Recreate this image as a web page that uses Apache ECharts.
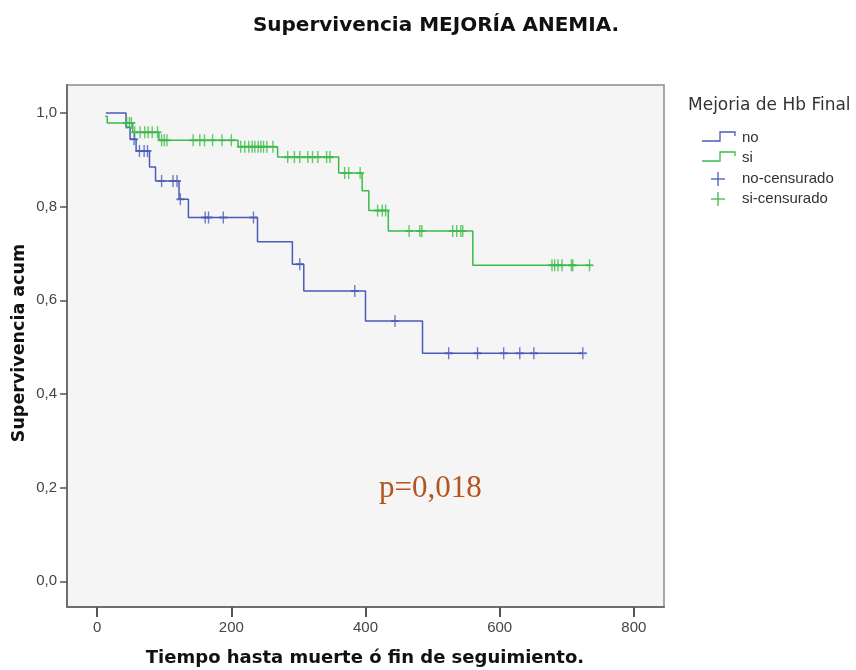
<!DOCTYPE html>
<html>
<head>
<meta charset="utf-8">
<script src="https://cdn.jsdelivr.net/npm/echarts@6/dist/echarts.min.js"></script>
<style>
  html, body { margin: 0; padding: 0; background: #ffffff; }
  #chart { width: 856px; height: 670px; }
</style>
</head>
<body>
<div id="chart"></div>
<script>
// Texts
const titleText = 'Supervivencia MEJORÍA ANEMIA.';
const xTitle = 'Tiempo hasta muerte ó fin de seguimiento.';
const yTitle = 'Supervivencia acum';
const legendTitle = 'Mejoria de Hb Final';
const groupNames = ['no', 'si'];
const censorNames = ['no-censurado', 'si-censurado'];
const pValueText = 'p=0,018';

// Axis ticks
const xTicks = [0, 200, 400, 600, 800];
const yTicks = [0, 0.2, 0.4, 0.6, 0.8, 1.0];

// Kaplan-Meier curve, group "no": step times and survival after each step
const noTimes    = [13, 43, 49, 58, 78, 87, 122, 136, 239, 291, 308, 400, 485, 724];
const noSurvival = [1.0, 0.970, 0.944, 0.919, 0.885, 0.855, 0.816, 0.777, 0.725, 0.677, 0.620, 0.556, 0.487, 0.487];
// Censored times, group "no"
const noCensored = [55, 63, 70, 75, 96, 113, 119, 124, 161, 166, 188, 233, 302, 384, 444, 524, 567, 606, 630, 651, 724];

// Kaplan-Meier curve, group "si"
const siTimes    = [12, 15, 53, 92, 210, 269, 360, 395, 405, 434, 560, 736];
const siSurvival = [0.993, 0.979, 0.959, 0.942, 0.928, 0.906, 0.872, 0.834, 0.792, 0.748, 0.675, 0.675];
// Censored times, group "si"
const siCensored = [44, 48, 51, 56, 64, 71, 76, 82, 90,
  96, 100, 104, 143, 153, 160, 172, 186, 200,
  214, 220, 226, 231, 235, 240, 244, 248, 253, 262,
  284, 294, 302, 314, 321, 329, 342, 347,
  369, 375, 392,
  418, 425, 430,
  465, 481, 484, 530, 536, 542, 545,
  678, 682, 687, 693, 707, 709, 734];

const colorNo = '#4a5ab8';
const colorSi = '#3cba4a';

function curveData(times, surv) {
  return times.map((t, i) => [t, surv[i]]);
}
function survivalAt(times, surv, t) {
  let s = surv[0];
  for (let i = 0; i < times.length; i++) {
    if (times[i] <= t) s = surv[i];
  }
  return s;
}
function censorData(cens, times, surv) {
  return cens.map(t => [t, survivalAt(times, surv, t)]);
}
const fmt = v => v.toFixed(1).replace('.', ',');

const plusPath = 'path://M5,0V10M0,5H10';

const chart = echarts.init(document.getElementById('chart'), null, { renderer: 'canvas' });

function stepIcon(x, y, color) {
  return {
    type: 'polyline',
    shape: { points: [[x, y + 9], [x + 18, y + 9], [x + 18, y], [x + 33, y], [x + 33, y + 4]] },
    style: { stroke: color, lineWidth: 1.3, fill: null }
  };
}
function plusIcon(cx, cy, color) {
  return {
    type: 'group',
    children: [
      { type: 'line', shape: { x1: cx - 7, y1: cy, x2: cx + 7, y2: cy }, style: { stroke: color, lineWidth: 1.3 } },
      { type: 'line', shape: { x1: cx, y1: cy - 7, x2: cx, y2: cy + 7 }, style: { stroke: color, lineWidth: 1.3 } }
    ]
  };
}
const legendFont = '15px "Liberation Sans", Arial, sans-serif';

chart.setOption({
  animation: false,
  backgroundColor: '#ffffff',
  grid: {
    left: 67, top: 85, width: 597, height: 522,
    show: true, backgroundColor: '#f5f5f5', borderColor: '#8c8c8c', borderWidth: 1.5
  },
  xAxis: {
    type: 'value', min: -45, max: 845,
    axisLine: { show: true, onZero: false, lineStyle: { color: '#6e6e6e', width: 2 } },
    axisTick: { show: true, customValues: xTicks, length: 10, lineStyle: { color: '#555', width: 2 } },
    axisLabel: {
      customValues: xTicks, margin: 13, color: '#444',
      fontFamily: '"Liberation Sans", Arial, sans-serif', fontSize: 15
    },
    splitLine: { show: false }
  },
  yAxis: {
    type: 'value', min: -0.055, max: 1.06,
    axisLine: { show: true, onZero: false, lineStyle: { color: '#6e6e6e', width: 2 } },
    axisTick: { show: true, customValues: yTicks, length: 7, lineStyle: { color: '#555', width: 1.5 } },
    axisLabel: {
      customValues: yTicks, margin: 10, color: '#444', formatter: fmt,
      fontFamily: '"Liberation Sans", Arial, sans-serif', fontSize: 15
    },
    splitLine: { show: false }
  },
  series: [
    {
      name: groupNames[1], type: 'line', step: 'end', symbol: 'none',
      data: curveData(siTimes, siSurvival),
      lineStyle: { color: colorSi, width: 1.5 }, z: 2
    },
    {
      name: groupNames[0], type: 'line', step: 'end', symbol: 'none',
      data: curveData(noTimes, noSurvival),
      lineStyle: { color: colorNo, width: 1.5 }, z: 3
    },
    {
      name: censorNames[1], type: 'scatter', symbol: plusPath, symbolSize: [8, 12],
      data: censorData(siCensored, siTimes, siSurvival),
      itemStyle: { color: colorSi, borderColor: colorSi, borderWidth: 1.7 }, z: 4
    },
    {
      name: censorNames[0], type: 'scatter', symbol: plusPath, symbolSize: [8, 12],
      data: censorData(noCensored, noTimes, noSurvival),
      itemStyle: { color: colorNo, borderColor: colorNo, borderWidth: 1.7 }, z: 5
    }
  ],
  graphic: [
    { type: 'text', x: 436, y: 26,
      style: { text: titleText, align: 'center', verticalAlign: 'middle',
        font: 'bold 20px "DejaVu Sans", sans-serif', fill: '#111' } },
    { type: 'text', x: 365, y: 658,
      style: { text: xTitle, align: 'center', verticalAlign: 'middle',
        font: 'bold 18px "DejaVu Sans", sans-serif', fill: '#111' } },
    { type: 'text', x: 19, y: 343, rotation: Math.PI / 2,
      style: { text: yTitle, align: 'center', verticalAlign: 'middle',
        font: 'bold 17.5px "DejaVu Sans", sans-serif', fill: '#111' } },
    { type: 'text', x: 379, y: 489,
      style: { text: pValueText, align: 'left', verticalAlign: 'middle',
        font: '31px "Liberation Serif", "Times New Roman", serif', fill: '#b5531f' } },
    // legend
    { type: 'text', x: 688, y: 106,
      style: { text: legendTitle, align: 'left', verticalAlign: 'middle',
        font: '17px "DejaVu Sans", sans-serif', fill: '#333' } },
    stepIcon(702, 132, colorNo),
    { type: 'text', x: 742, y: 138,
      style: { text: groupNames[0], align: 'left', verticalAlign: 'middle', font: legendFont, fill: '#333' } },
    stepIcon(702, 152, colorSi),
    { type: 'text', x: 742, y: 158,
      style: { text: groupNames[1], align: 'left', verticalAlign: 'middle', font: legendFont, fill: '#333' } },
    plusIcon(718, 179, colorNo),
    { type: 'text', x: 742, y: 179,
      style: { text: censorNames[0], align: 'left', verticalAlign: 'middle', font: legendFont, fill: '#333' } },
    plusIcon(718, 199, colorSi),
    { type: 'text', x: 742, y: 199,
      style: { text: censorNames[1], align: 'left', verticalAlign: 'middle', font: legendFont, fill: '#333' } }
  ]
});
</script>
</body>
</html>
